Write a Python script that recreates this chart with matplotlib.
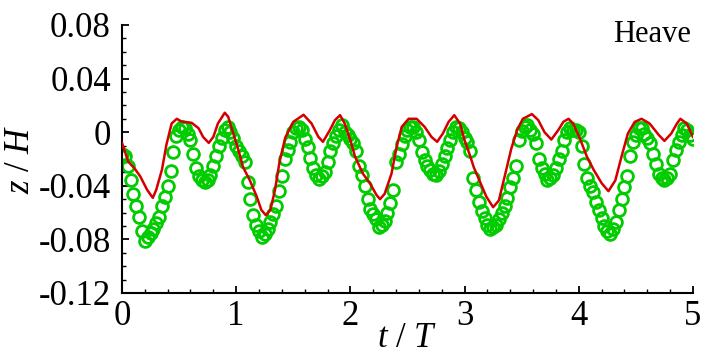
import numpy as np
import matplotlib
matplotlib.use("Agg")
import matplotlib.pyplot as plt

plt.rcParams['font.family'] = ['Liberation Serif', 'DejaVu Serif']
plt.rcParams['mathtext.fontset'] = 'custom'
plt.rcParams['mathtext.rm'] = 'Liberation Serif'
plt.rcParams['mathtext.it'] = 'Liberation Serif:italic'
plt.rcParams['axes.unicode_minus'] = False

# experiment (green circles), sampled every 0.025 T
z_exp = [
    -0.016, -0.018, -0.025, -0.036, -0.046, -0.055, -0.063, -0.074, -0.081, -0.078,
    -0.075, -0.072, -0.068, -0.063, -0.055, -0.048, -0.040, -0.029, -0.015, -0.003,
    0.002, 0.004, 0.003, -0.001, -0.006, -0.016, -0.027, -0.033, -0.036, -0.037,
    -0.036, -0.032, -0.025, -0.018, -0.010, -0.004, 0.002, 0.004, 0.000, -0.004,
    -0.010, -0.014, -0.018, -0.022, -0.037, -0.050, -0.062, -0.069, -0.074, -0.078,
    -0.076, -0.072, -0.067, -0.061, -0.055, -0.044, -0.033, -0.020, -0.013, -0.007,
    0.000, 0.003, 0.004, 0.002, -0.005, -0.011, -0.019, -0.027, -0.032, -0.035,
    -0.033, -0.030, -0.022, -0.014, -0.008, -0.003, 0.002, 0.005, 0.000, -0.002,
    -0.005, -0.008, -0.014, -0.025, -0.032, -0.040, -0.050, -0.057, -0.061, -0.065,
    -0.071, -0.069, -0.066, -0.060, -0.053, -0.043, -0.022, -0.016, -0.009, -0.003,
    0.002, 0.004, 0.004, 0.000, -0.006, -0.015, -0.021, -0.025, -0.028, -0.031,
    -0.032, -0.029, -0.024, -0.018, -0.012, -0.006, 0.000, 0.004, 0.003, 0.000,
    -0.004, -0.007, -0.014, -0.034, -0.043, -0.052, -0.059, -0.064, -0.069, -0.072,
    -0.071, -0.069, -0.065, -0.060, -0.055, -0.049, -0.041, -0.034, -0.025, -0.006,
    0.001, 0.004, 0.005, 0.002, -0.001, -0.008, -0.020, -0.027, -0.031, -0.036,
    -0.034, -0.032, -0.027, -0.020, -0.014, -0.006, 0.000, 0.003, 0.002, 0.002,
    0.000, -0.010, -0.024, -0.034, -0.040, -0.045, -0.052, -0.058, -0.064, -0.070,
    -0.074, -0.076, -0.072, -0.067, -0.058, -0.050, -0.041, -0.033, -0.018, -0.007,
    -0.002, 0.003, 0.003, -0.001, -0.004, -0.008, -0.016, -0.024, -0.031, -0.034,
    -0.036, -0.034, -0.031, -0.021, -0.013, -0.007, -0.002, 0.003, 0.002, -0.002,
    -0.005,
]
t_exp = np.arange(len(z_exp)) * 0.025

# numerical result (red line)
t_num = [0.00, 0.055, 0.11, 0.16, 0.22, 0.27, 0.30, 0.35, 0.39, 0.435, 0.48, 0.52,
         0.61, 0.67, 0.71, 0.76, 0.80, 0.84, 0.90, 0.93, 0.975, 1.02, 1.06, 1.12,
         1.18, 1.22, 1.26, 1.30, 1.34, 1.38, 1.43, 1.50, 1.59, 1.66, 1.72, 1.76,
         1.82, 1.865, 1.91, 1.95, 2.00, 2.04, 2.11, 2.17, 2.23, 2.26, 2.30, 2.36,
         2.405, 2.45, 2.51, 2.58, 2.65, 2.71, 2.76, 2.81, 2.86, 2.91, 2.96, 3.00,
         3.05, 3.08, 3.13, 3.19, 3.25, 3.30, 3.35, 3.41, 3.46, 3.51, 3.59, 3.645,
         3.70, 3.76, 3.82, 3.865, 3.91, 3.95, 4.01, 4.07, 4.13, 4.20, 4.26, 4.32,
         4.375, 4.43, 4.49, 4.55, 4.62, 4.70, 4.75, 4.81, 4.86, 4.89, 4.945, 5.00]
z_num = [-0.008, -0.022, -0.027, -0.033, -0.043, -0.049, -0.043, -0.028, -0.009, 0.0065, 0.010, 0.008,
         0.007, 0.003, -0.0035, -0.008, -0.0035, 0.0065, 0.0145, 0.0115, -0.001, -0.0135, -0.026, -0.036,
         -0.048, -0.058, -0.062, -0.058, -0.043, -0.022, -0.004, 0.0077, 0.013, 0.0065, -0.0035, -0.0072,
         0.0015, 0.009, 0.0127, 0.0065, -0.006, -0.018, -0.031, -0.038, -0.047, -0.050, -0.046, -0.031,
         -0.011, 0.004, 0.010, 0.010, 0.004, -0.0035, -0.0072, -0.001, 0.0077, 0.0127, 0.0065, -0.006,
         -0.018, -0.026, -0.036, -0.048, -0.056, -0.051, -0.0334, -0.012, 0.0015, 0.010, 0.0135, 0.009,
         0.0, -0.0055, 0.0015, 0.0077, 0.010, 0.0065, -0.0047, -0.018, -0.028, -0.038, -0.044, -0.036,
         -0.018, -0.001, 0.0077, 0.010, 0.0065, -0.002, -0.0065, -0.001, 0.0065, 0.010, 0.0065, -0.0035]

yticks = [0.08, 0.04, 0, -0.04, -0.08, -0.12]
ytick_labels = ['0.08', '0.04', '0', '-0.04', '-0.08', '-0.12']
xticks = [0, 1, 2, 3, 4, 5]

fig = plt.figure(figsize=(7.1, 3.58), dpi=100)
ax = fig.add_axes([0.1718, 0.1816, 0.8042, 0.7486])

ax.plot(t_exp, z_exp, linestyle='none', marker='o', ms=8.5, mfc='none',
        mec='#00cc00', mew=2.0, zorder=2)
ax.plot(t_num, z_num, color='#d40000', lw=1.8, zorder=3)

ax.set_xlim(0, 5)
ax.set_ylim(-0.12, 0.08)
ax.set_xticks(xticks)
ax.set_xticklabels([str(v) for v in xticks])
ax.set_yticks(yticks)
ax.set_yticklabels(ytick_labels)
ax.set_xticks(np.arange(0, 5.01, 0.2), minor=True)
ax.set_yticks(np.arange(-0.12, 0.081, 0.01), minor=True)

for s in ['top', 'right']:
    ax.spines[s].set_visible(False)
for s in ['left', 'bottom']:
    ax.spines[s].set_linewidth(1.5)

ax.tick_params(which='major', direction='in', length=5, width=1.3, labelsize=25, pad=8)
ax.tick_params(which='minor', direction='in', length=3, width=1.0)
ax.tick_params(axis='x', which='major', pad=5)

ax.set_xlabel('$t$ / $T$', fontsize=25, labelpad=-8)
ax.set_ylabel('$z$ / $H$', fontsize=25, labelpad=1)

ax.text(0.997, 0.963, 'Heave', transform=ax.transAxes, ha='right', va='center', fontsize=22)

fig.savefig('out.png', dpi=100)
